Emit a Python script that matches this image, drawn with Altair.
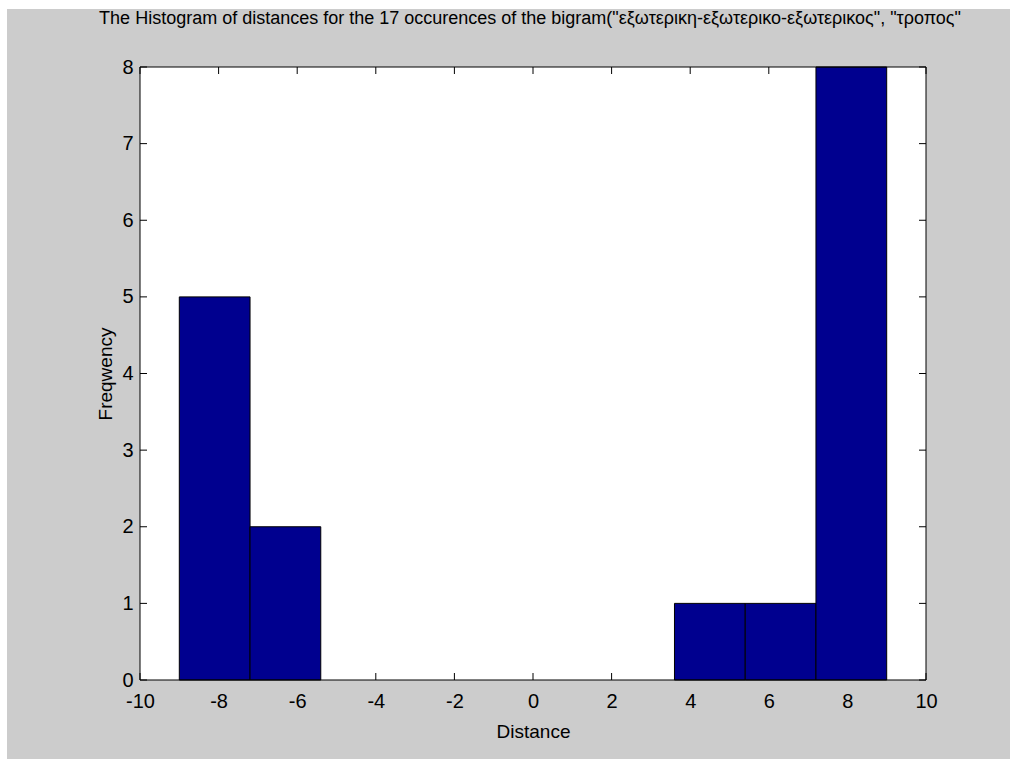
import altair as alt
import pandas as pd

# Histogram bins (edges) and counts of the distances
bin_start = [-9.0, -7.2, -5.4, -3.6, -1.8, 0.0, 1.8, 3.6, 5.4, 7.2]
bin_end = [-7.2, -5.4, -3.6, -1.8, 0.0, 1.8, 3.6, 5.4, 7.2, 9.0]
counts = [5, 2, 0, 0, 0, 0, 0, 1, 1, 8]

x_ticks = [-10, -8, -6, -4, -2, 0, 2, 4, 6, 8, 10]
y_ticks = [0, 1, 2, 3, 4, 5, 6, 7, 8]

title_text = ('The Histogram of distances for the 17 occurences of the bigram('
              '"εξωτερικη-εξωτερικο-εξωτερικος", "τροπος"')

W, H = 786, 613
LEFT, TOP, RIGHT, BOTTOM = 140, 67, 84, 79
FONT = "Liberation Sans"
BAR = "#00008F"
GRAY = "#CCCCCC"

bars_df = pd.DataFrame({"start": bin_start, "end": bin_end, "count": counts})
bars_df = bars_df[bars_df["count"] > 0]
xt_df = pd.DataFrame({"v": x_ticks})
yt_df = pd.DataFrame({"v": y_ticks})
one = pd.DataFrame({"k": [0]})

xscale = alt.Scale(domain=[-10, 10], nice=False, zero=False)
yscale = alt.Scale(domain=[0, 8], nice=False)

LABEL_EXPR = "'' + datum.value"
xaxis = alt.Axis(values=x_ticks, domain=False, ticks=False, grid=False,
                 zindex=2, labelExpr=LABEL_EXPR, labelFont=FONT,
                 labelFontSize=20, labelColor="#000", labelPadding=11,
                 labelFlush=False, title="Distance", titleFont=FONT,
                 titleFontSize=19, titleFontWeight="normal", titleColor="#000",
                 titlePadding=11)
yaxis = alt.Axis(values=y_ticks, domain=False, ticks=False, grid=False,
                 zindex=2, labelExpr=LABEL_EXPR, labelFont=FONT,
                 labelFontSize=20, labelColor="#000", labelPadding=7,
                 labelFlush=False, title="Freqwency", titleFont=FONT,
                 titleFontSize=19, titleFontWeight="normal", titleColor="#000",
                 titlePadding=6)

# Figure background: grey panel with a thin white margin at top and left
panel = alt.Chart(one).mark_rect(fill=GRAY, clip=False).encode(
    x=alt.value(-LEFT + 7), x2=alt.value(W + RIGHT),
    y=alt.value(-TOP + 9), y2=alt.value(H + BOTTOM))
plot_bg = alt.Chart(one).mark_rect(fill="white").encode(
    x=alt.value(0), x2=alt.value(W), y=alt.value(0), y2=alt.value(H))

# Inward tick marks on all four sides
bottom_ticks = alt.Chart(xt_df).mark_rule(color="black").encode(
    x=alt.X("v:Q", scale=xscale, axis=xaxis),
    y=alt.value(H), y2=alt.value(H - 7))
top_ticks = alt.Chart(xt_df).mark_rule(color="black").encode(
    x=alt.X("v:Q", scale=xscale), y=alt.value(0), y2=alt.value(7))
left_ticks = alt.Chart(yt_df).mark_rule(color="black").encode(
    y=alt.Y("v:Q", scale=yscale, axis=yaxis),
    x=alt.value(0), x2=alt.value(7))
right_ticks = alt.Chart(yt_df).mark_rule(color="black").encode(
    y=alt.Y("v:Q", scale=yscale), x=alt.value(W), x2=alt.value(W - 7))

bars = alt.Chart(bars_df).mark_rect(fill=BAR, stroke="black", strokeWidth=1).encode(
    x=alt.X("start:Q", scale=xscale),
    x2="end:Q",
    y=alt.Y("count:Q", scale=yscale),
    y2=alt.datum(0))

frame = alt.Chart(one).mark_rect(fill=None, stroke="black", strokeWidth=1).encode(
    x=alt.value(0), x2=alt.value(W), y=alt.value(0), y2=alt.value(H))

title = alt.Chart(pd.DataFrame({"t": [title_text]})).mark_text(
    font=FONT, fontSize=18, color="#000", align="center", baseline="middle",
    clip=False).encode(text="t:N", x=alt.value(390), y=alt.value(-48))

chart = alt.layer(panel, plot_bg, bottom_ticks, top_ticks, left_ticks,
                  right_ticks, bars, frame, title).properties(
    width=W, height=H,
    background="white",
    padding={"left": LEFT, "top": TOP, "right": RIGHT, "bottom": BOTTOM},
    autosize=alt.AutoSizeParams(type="none"),
).configure_view(stroke=None)

chart.save("out.html", embed_options={"renderer": "svg", "actions": False})
